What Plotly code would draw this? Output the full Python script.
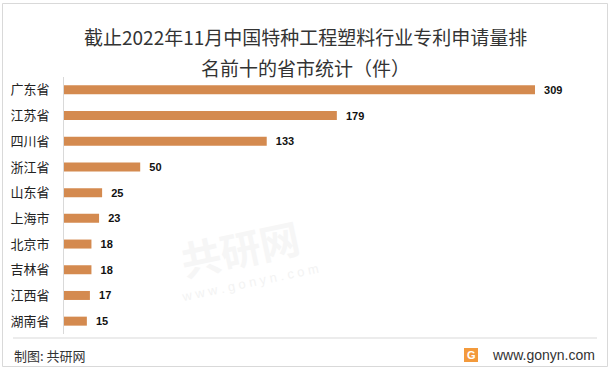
import plotly.graph_objects as go

provinces = ["广东省", "江苏省", "四川省", "浙江省", "山东省", "上海市", "北京市", "吉林省", "江西省", "湖南省"]
patents = [309, 179, 133, 50, 25, 23, 18, 18, 17, 15]

title_line1 = "截止2022年11月中国特种工程塑料行业专利申请量排"
title_line2 = "名前十的省市统计（件）"
source_text = "制图: 共研网"
site_text = "www.gonyn.com"
watermark_text = "<b>共研网</b>"
watermark_url = "w w w . g o n y n . c o m"

W, H = 611, 371
BAR_COLOR = "#D48A4F"
CJK = "Noto Sans CJK SC, Microsoft YaHei, sans-serif"
LAT = "Liberation Sans, Arial, sans-serif"

def px(x):
    return x / W

def py(y):
    return 1 - y / H

fig = go.Figure(
    go.Bar(
        x=patents,
        y=provinces,
        orientation="h",
        marker=dict(color=BAR_COLOR, line=dict(width=0)),
        text=patents,
        texttemplate="\u00a0\u00a0%{text}",
        textposition="outside",
        constraintext="none",
        textfont=dict(family=LAT, size=11, color="#111111", weight="bold"),
        cliponaxis=False,
        hoverinfo="skip",
    )
)

fig.update_layout(
    width=W,
    height=H,
    margin=dict(l=0, r=0, t=0, b=0),
    paper_bgcolor="white",
    plot_bgcolor="rgba(0,0,0,0)",
    showlegend=False,
    bargap=0.65,
    xaxis=dict(
        domain=[px(64), px(597)],
        range=[0, 309 * 533 / 471],
        showgrid=False,
        zeroline=False,
        showline=False,
        showticklabels=False,
        ticks="",
        fixedrange=True,
    ),
    yaxis=dict(
        domain=[py(334), py(77)],
        autorange="reversed",
        showgrid=False,
        zeroline=False,
        showline=True,
        linecolor="#D9D9D9",
        linewidth=1,
        ticks="",
        ticklabelstandoff=11,
        tickfont=dict(family=CJK, size=13, color="#222222"),
        fixedrange=True,
    ),
    font=dict(family=CJK),
)

annotations = [
    dict(text=watermark_text, x=px(240), y=py(248), xanchor="center", yanchor="middle",
         textangle=-12, font=dict(family=CJK, size=40, color="#F6F6F6")),
    dict(text=watermark_url, x=px(250), y=py(282), xanchor="center", yanchor="middle",
         textangle=-12, font=dict(family=LAT, size=13, color="#F3F3F3")),
    dict(text=title_line1, x=px(305), y=py(37), xanchor="center", yanchor="middle",
         font=dict(family=CJK, size=19, color="#333333")),
    dict(text=title_line2, x=px(305), y=py(68), xanchor="center", yanchor="middle",
         font=dict(family=CJK, size=19, color="#333333")),
    dict(text=source_text, x=px(12), y=py(355), xanchor="left", yanchor="middle",
         font=dict(family=CJK, size=13, color="#333333")),
    dict(text=site_text, x=px(597), y=py(355), xanchor="right", yanchor="middle",
         font=dict(family=LAT, size=14, color="#333333")),
    dict(text="<b>G</b>", x=px(471), y=py(355), xanchor="center", yanchor="middle",
         font=dict(family=LAT, size=11, color="white")),
]
for a in annotations:
    a.update(xref="paper", yref="paper", showarrow=False)
fig.update_layout(annotations=annotations)

shapes = [
    dict(type="rect", x0=px(2.5), x1=px(607.5), y0=py(3.5), y1=py(366.5),
         line=dict(color="#D9D9D9", width=1), fillcolor="rgba(0,0,0,0)", layer="below"),
    dict(type="line", x0=px(13), x1=px(597), y0=py(338), y1=py(338),
         line=dict(color="#D9D9D9", width=1)),
    dict(type="rect", x0=px(464), x1=px(478), y0=py(348), y1=py(362),
         line=dict(width=0), fillcolor="#F39A3C"),
]
for s in shapes:
    s.update(xref="paper", yref="paper")
fig.update_layout(shapes=shapes)

fig.write_html(
    "out.html",
    config={"displayModeBar": False},
    post_script="document.body.style.margin='0';document.body.style.overflow='hidden';",
)
